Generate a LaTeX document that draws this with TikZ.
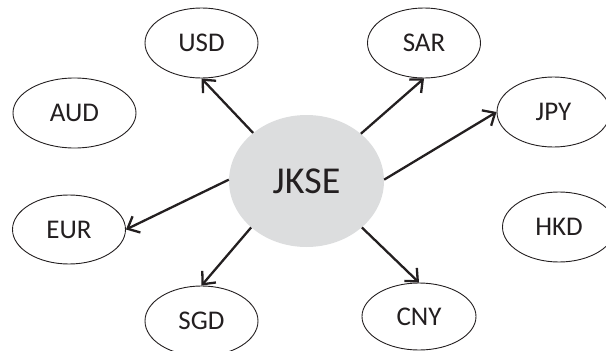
\documentclass[tikz,border=0pt]{standalone}
\usepackage{fontspec}
\setmainfont{Carlito}
\usetikzlibrary{shapes.geometric,arrows.meta}
\definecolor{ink}{HTML}{231F20}
\definecolor{hub}{HTML}{DCDDDE}
\begin{document}
\begin{tikzpicture}[x=1pt,y=-1pt,
  cur/.style={ellipse,draw=ink,line width=0.9pt,minimum width=113pt,minimum height=70pt,inner sep=0pt,font=\fontsize{27}{31}\selectfont,text=ink},
  hubnode/.style={ellipse,fill=hub,minimum width=155pt,minimum height=132pt,inner sep=0pt,font=\fontsize{38}{44}\selectfont,text=ink},
  link/.style={draw=ink,line width=2.3pt,-{Straight Barb[length=10pt,width=18pt]}}]
\useasboundingbox (0,0) rectangle (606,351);
\node[hubnode] (jkse) at (306.5,181) {JKSE};
\node[cur] (usd) at (201.5,43) {USD};
\node[cur,minimum width=123pt] (aud) at (74.5,113) {AUD};
\node[cur] (sar) at (424,43) {SAR};
\node[cur] (jpy) at (553.5,112) {JPY};
\node[cur,minimum height=69pt] (eur) at (69,229.5) {EUR};
\node[cur] (hkd) at (559,227) {HKD};
\node[cur] (sgd) at (201.5,321) {SGD};
\node[cur,minimum width=114pt,minimum height=67pt] (cny) at (419,316.5) {CNY};
\draw[link] (jkse.138.6) -- (usd.south);
\draw[link] (jkse.41.4) -- (sar.south);
\draw[link] (jkse.1) -- (jpy.west);
\draw[link] (jkse.179) -- (eur.east);
\draw[link] (jkse.220.8) -- (sgd.north);
\draw[link] (jkse.-40.3) -- (cny.north);
\end{tikzpicture}
\end{document}
